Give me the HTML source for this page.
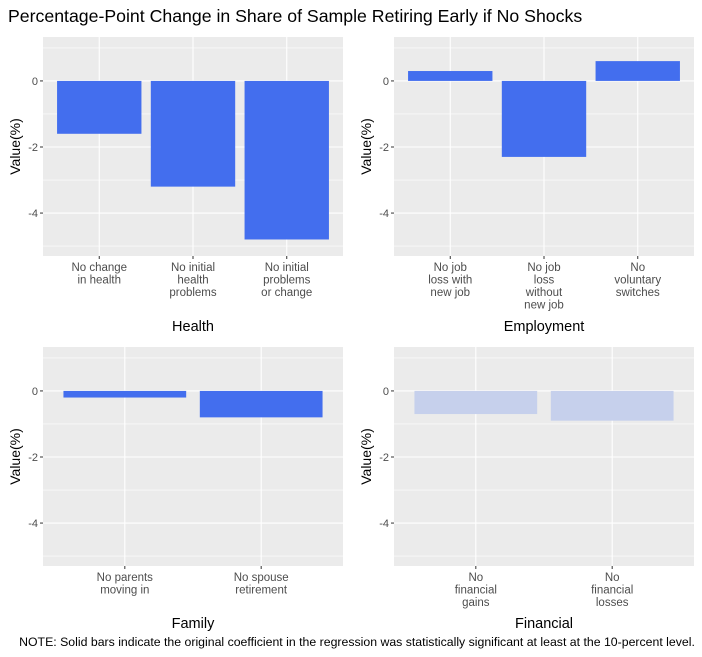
<!DOCTYPE html>
<html><head><meta charset="utf-8"><style>
body{margin:0;background:#fff;}
svg{display:block;font-family:"Liberation Sans",Arial,sans-serif;}
</style></head><body>
<svg id="c" width="702" height="657">
<text x="8" y="22" font-size="17.7" fill="#000">Percentage-Point Change in Share of Sample Retiring Early if No Shocks</text>
<text x="357" y="646" font-size="12.3" text-anchor="middle" fill="#000">NOTE: Solid bars indicate the original coefficient in the regression was statistically significant at least at the 10-percent level.</text>
</svg>
<script>
const healthCats=[["No change","in health"],["No initial","health","problems"],["No initial","problems","or change"]];
const healthVals=[-1.6,-3.2,-4.8];
const healthSig=[true,true,true];
const empCats=[["No job","loss with","new job"],["No job","loss","without","new job"],["No","voluntary","switches"]];
const empVals=[0.3,-2.3,0.6];
const empSig=[true,true,true];
const famCats=[["No parents","moving in"],["No spouse","retirement"]];
const famVals=[-0.2,-0.8];
const famSig=[true,true];
const finCats=[["No","financial","gains"],["No","financial","losses"]];
const finVals=[-0.7,-0.9];
const finSig=[false,false];
const yTicks=[0,-2,-4];
const yMin=-5.3,yMax=1.33;
const NS="http://www.w3.org/2000/svg";
const svg=document.getElementById('c');
function mk(tag,attrs,parent){const e=document.createElementNS(NS,tag);for(const k in attrs)e.setAttribute(k,attrs[k]);(parent||svg).appendChild(e);return e;}
function panel(name,title,cats,vals,sig,x0,y0){
  const w=300,h=219;
  const g=mk('g',{});
  
  
  const bg=mk('rect',{x:x0,y:y0,width:w,height:h,fill:'#ebebeb'},g);
  
  
  const ys=v=>y0+(yMax-v)/(yMax-yMin)*h;
  const n=cats.length;
  const xs=i=>x0+(i+1-0.4)/(n+0.2)*w;
  const unit=w/(n+0.2);
  for(let v=-5;v<=1;v+=1){ if(v%2!==0) mk('line',{x1:x0,x2:x0+w,y1:ys(v),y2:ys(v),stroke:'#fff','stroke-width':0.6},g);}
  yTicks.forEach(v=>{
    mk('line',{x1:x0,x2:x0+w,y1:ys(v),y2:ys(v),stroke:'#fff','stroke-width':1.1},g);
    mk('line',{x1:x0-3,x2:x0,y1:ys(v),y2:ys(v),stroke:'#333','stroke-width':1},g);
    const t=mk('text',{x:x0-5,y:ys(v)+4,'font-size':11,'text-anchor':'end',fill:'#4d4d4d'},g);
    t.textContent=v;
    
    
  });
  cats.forEach((c,i)=>{
    const cx=xs(i);
    mk('line',{x1:cx,x2:cx,y1:y0,y2:y0+h,stroke:'#fff','stroke-width':1.1},g);
    mk('line',{x1:cx,x2:cx,y1:y0+h,y2:y0+h+3,stroke:'#333','stroke-width':1},g);
    const v=vals[i];
    const bw=unit*0.9;
    const r=mk('rect',{x:cx-bw/2,y:Math.min(ys(v),ys(0)),width:bw,height:Math.abs(ys(v)-ys(0)),fill:sig[i]?'#436eee':'#c6d0ec'},g);
    
    
    c.forEach((line,j)=>{
      const t=mk('text',{x:cx,y:y0+h+15+j*12.5,'font-size':11.5,'text-anchor':'middle',fill:'#4d4d4d'},g);
      t.textContent=line;
      
      
    });
  });
  const yt=mk('text',{x:0,y:0,'font-size':14,'text-anchor':'middle',fill:'#000',transform:`translate(${x0-23},${y0+h/2}) rotate(-90)`},g);
  yt.textContent='Value(%)';
  
  
  const xt=mk('text',{x:x0+w/2,y:(n===3?y0+h+75:y0+h+62),'font-size':14.5,'text-anchor':'middle',fill:'#000'},g);
  xt.textContent=title;
  
  
}
panel('health','Health',healthCats,healthVals,healthSig,43,37);
panel('employment','Employment',empCats,empVals,empSig,394,37);
panel('family','Family',famCats,famVals,famSig,43,347);
panel('financial','Financial',finCats,finVals,finSig,394,347);
</script>
</body></html>
